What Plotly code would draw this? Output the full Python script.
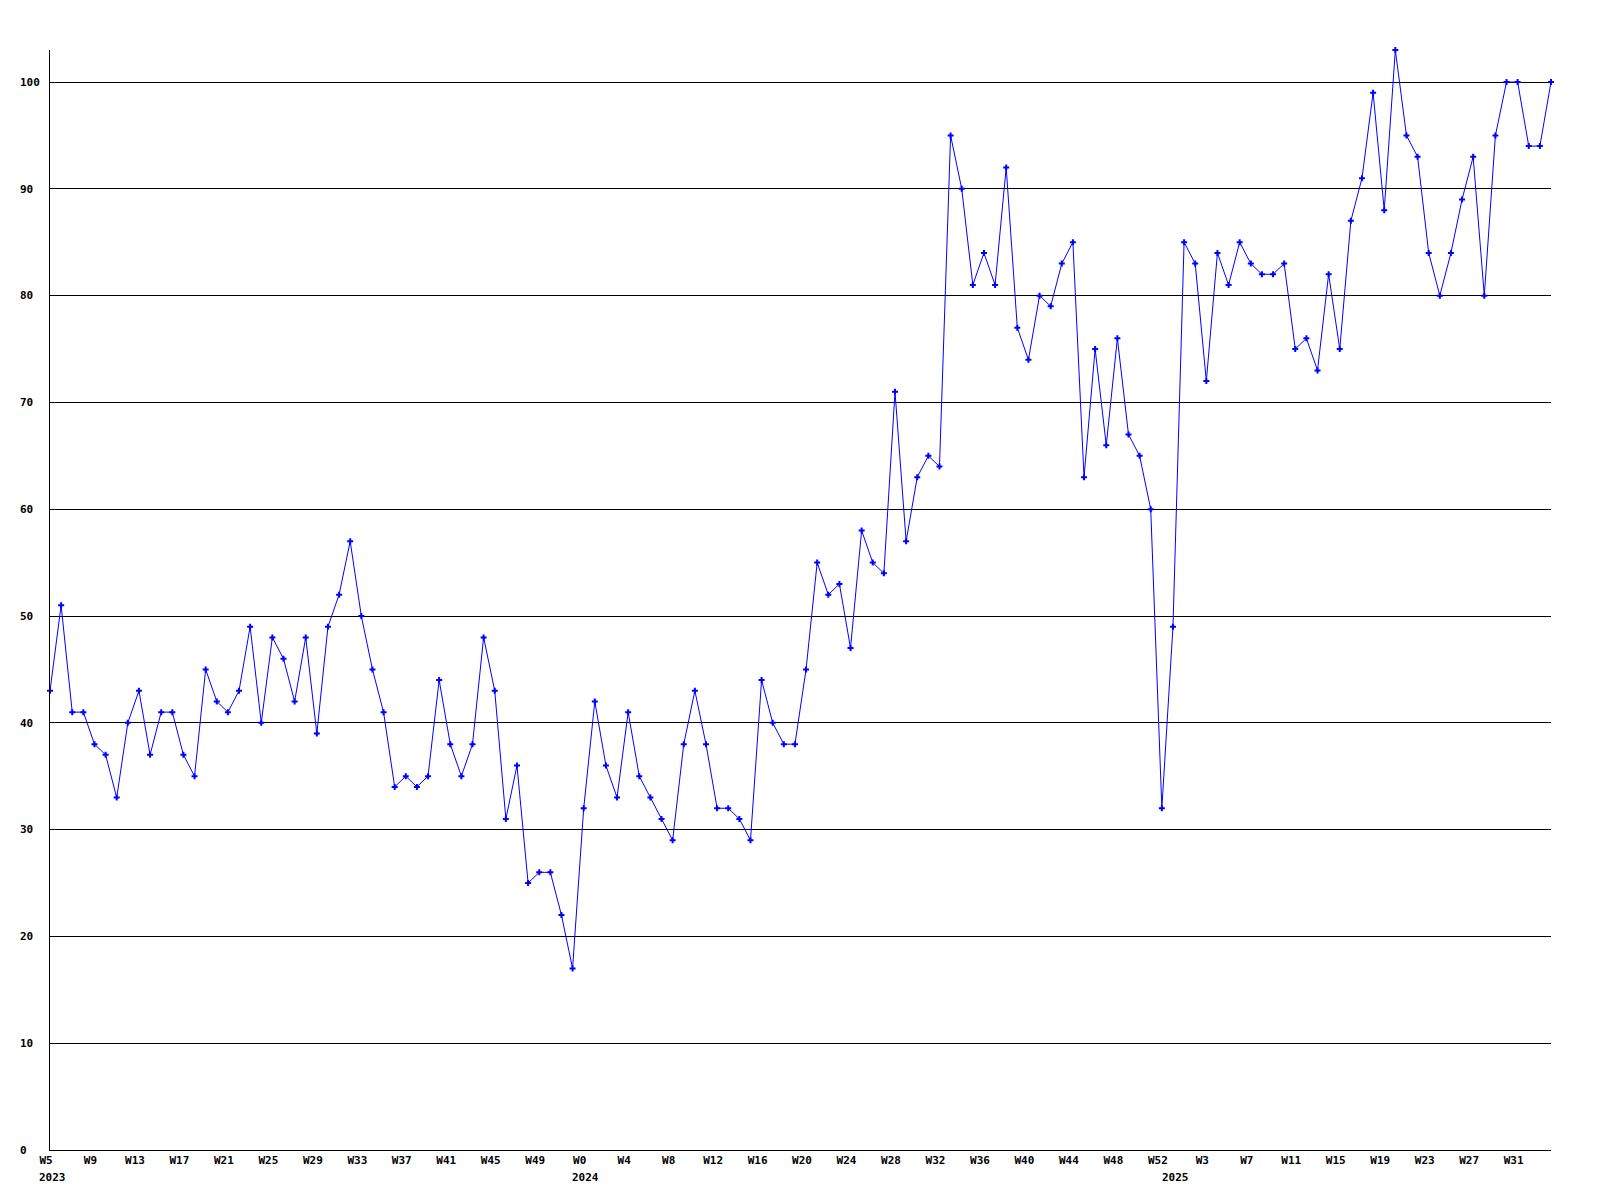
import plotly.graph_objects as go

values = [43, 51, 41, 41, 38, 37, 33, 40, 43, 37, 41, 41, 37, 35, 45, 42, 41, 43, 49, 40,
          48, 46, 42, 48, 39, 49, 52, 57, 50, 45, 41, 34, 35, 34, 35, 44, 38, 35, 38, 48,
          43, 31, 36, 25, 26, 26, 22, 17, 32, 42, 36, 33, 41, 35, 33, 31, 29, 38, 43, 38,
          32, 32, 31, 29, 44, 40, 38, 38, 45, 55, 52, 53, 47, 58, 55, 54, 71, 57, 63, 65,
          64, 95, 90, 81, 84, 81, 92, 77, 74, 80, 79, 83, 85, 63, 75, 66, 76, 67, 65, 60,
          32, 49, 85, 83, 72, 84, 81, 85, 83, 82, 82, 83, 75, 76, 73, 82, 75, 87, 91, 99,
          88, 103, 95, 93, 84, 80, 84, 89, 93, 80, 95, 100, 100, 94, 94, 100]

week_ticks = ["W5", "W9", "W13", "W17", "W21", "W25", "W29", "W33", "W37", "W41", "W45", "W49",
              "W0", "W4", "W8", "W12", "W16", "W20", "W24", "W28", "W32", "W36", "W40", "W44", "W48", "W52",
              "W3", "W7", "W11", "W15", "W19", "W23", "W27", "W31"]
year_labels = ["2023", "2024", "2025"]
year_positions = [-0.0085, 0.3465, 0.7395]
y_ticks = [0, 10, 20, 30, 40, 50, 60, 70, 80, 90, 100]

x = list(range(len(values)))
font = dict(family="DejaVu Sans Mono", size=11, color="black", weight="bold")

fig = go.Figure()
fig.add_trace(go.Scatter(
    x=x, y=values, mode="lines+markers",
    line=dict(color="#0000ff", width=1),
    marker=dict(symbol="cross", size=5, color="#0000ff", line=dict(width=0)),
    cliponaxis=False, showlegend=False,
))

ytext = [str(v) + "\u00a0" * (3 - len(str(v))) for v in y_ticks]

fig.update_layout(
    width=1600, height=1200,
    margin=dict(l=42, r=57, t=42, b=58, autoexpand=False),
    paper_bgcolor="white", plot_bgcolor="white",
    font=font,
    xaxis=dict(
        range=[0, len(values) - 1],
        tickvals=list(range(0, len(values), 4))[:len(week_ticks)],
        ticktext=week_ticks,
        showgrid=False, zeroline=False,
        showline=True, linecolor="black", linewidth=1,
        ticks="", tickfont=font, automargin=False,
        ticklabelshift=-4,
    ),
    yaxis=dict(
        range=[0, 103],
        tickvals=y_ticks, ticktext=ytext,
        showgrid=True, gridcolor="black", gridwidth=1,
        zeroline=False,
        showline=True, linecolor="black", linewidth=1,
        ticks="", tickfont=font, automargin=False,
        ticklabelstandoff=7,
    ),
)

for lbl, pos in zip(year_labels, year_positions):
    fig.add_annotation(
        x=pos, y=0, xref="paper", yref="paper", text=lbl, showarrow=False,
        xanchor="left", yanchor="middle", yshift=-27, font=font,
    )

fig.write_html("out.html")
